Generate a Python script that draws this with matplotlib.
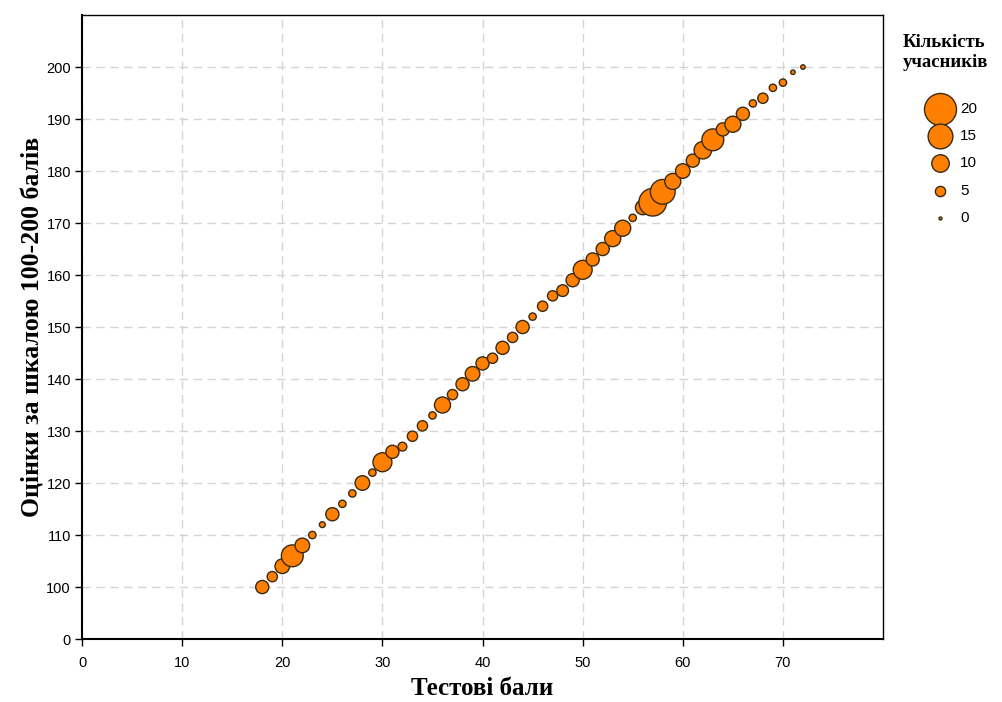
import matplotlib.pyplot as plt
import numpy as np

# test score -> scaled grade, bubble size = number of participants
test_scores = [18, 19, 20, 21, 22, 23, 24, 25, 26, 27, 28, 29, 30, 31, 32, 33, 34, 35,
               36, 37, 38, 39, 40, 41, 42, 43, 44, 45, 46, 47, 48, 49, 50, 51, 52, 53,
               54, 55, 56, 57, 58, 59, 60, 61, 62, 63, 64, 65, 66, 67, 68, 69, 70, 71, 72]
grades = [100, 102, 104, 106, 108, 110, 112, 114, 116, 118, 120, 122, 124, 126, 127, 129,
          131, 133, 135, 137, 139, 141, 143, 144, 146, 148, 150, 152, 154, 156, 157, 159,
          161, 163, 165, 167, 169, 171, 173, 174, 176, 178, 180, 182, 184, 186, 188, 189,
          191, 193, 194, 196, 197, 199, 200]
counts = [7, 5, 8, 13, 8, 3, 2, 7, 3, 3, 8, 3, 11, 7, 4, 5, 5, 3, 9, 5, 7, 8, 7, 5, 7,
          5, 7, 3, 5, 5, 6, 7, 11, 7, 7, 9, 9, 3, 8, 17, 15, 9, 8, 7, 10, 13, 7, 9, 7, 3,
          5, 3, 3, 1, 1]

legend_counts = [20, 15, 10, 5, 0]
x_ticks = [0, 10, 20, 30, 40, 50, 60, 70]
y_ticks = [90, 100, 110, 120, 130, 140, 150, 160, 170, 180, 190, 200]
y_tick_labels = ["0"] + [str(v) for v in y_ticks[1:]]

FACE = "#ff8000"
EDGE = "#3a2a14"


def bubble_size(c):
    # diameter in px grows linearly with count, converted to points^2
    d = 3 + 1.45 * np.asarray(c, dtype=float)
    return (d * 0.72) ** 2


fig = plt.figure(figsize=(10.03, 7.02), dpi=100)
ax = fig.add_axes([0.0818, 0.0897, 0.7986, 0.8889])

ax.scatter(test_scores, grades, s=bubble_size(counts), c=FACE, edgecolors=EDGE,
           linewidths=1.0, zorder=3)

ax.set_xlim(0, 80)
ax.set_ylim(90, 210)
ax.set_xticks(x_ticks)
ax.set_yticks(y_ticks)
ax.set_yticklabels(y_tick_labels)
ax.tick_params(axis="both", direction="out", length=5, width=1, labelsize=10.5,
               colors="black")
ax.tick_params(axis="x", pad=7)
ax.tick_params(axis="y", pad=3)
for lab in ax.get_xticklabels() + ax.get_yticklabels():
    lab.set_family("Liberation Sans")

ax.grid(True, color="#d4d4d4", linestyle=(0, (6, 4)), linewidth=1.0, zorder=0)
for side in ["left", "bottom"]:
    ax.spines[side].set_linewidth(1.5)
for side in ["top", "right"]:
    ax.spines[side].set_linewidth(1.0)

ax.set_xlabel("Тестові бали", family="Liberation Serif", fontweight="bold",
              fontsize=18, labelpad=5)
ax.set_ylabel("Оцінки за шкалою 100-200 балів", family="Liberation Serif",
              fontweight="bold", fontsize=18.5, labelpad=1)

fig.text(0.900, 0.952, "Кількість\nучасників", family="Liberation Serif",
         fontweight="bold", fontsize=13.5, ha="left", va="top", linespacing=1.25)

handles = [ax.scatter([], [], s=bubble_size(c), c=FACE, edgecolors=EDGE, linewidths=1.0)
           for c in legend_counts]
leg = fig.legend(handles, [str(c) for c in legend_counts], loc="upper left",
                 bbox_to_anchor=(0.922, 0.855), frameon=False,
                 prop={"family": "Liberation Sans", "size": 11}, handletextpad=0.3,
                 handlelength=2.0, labelspacing=0.87, borderaxespad=0, borderpad=0)

fig.savefig("out.png", dpi=100)
